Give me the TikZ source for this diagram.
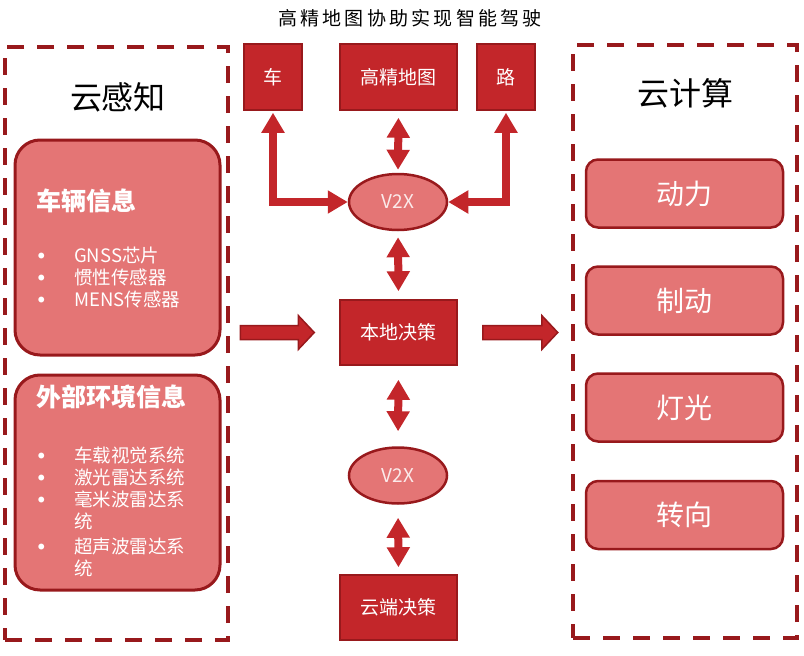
\documentclass[tikz,border=0pt]{standalone}
\usepackage{fontspec}
\setmainfont{Noto Sans CJK SC}
\usepackage{xcolor}
\usepackage{tikz}
\usetikzlibrary{positioning,arrows.meta,calc,shapes.geometric}
\definecolor{rimred}{HTML}{98191C}
\definecolor{boxred}{HTML}{C3262A}
\definecolor{softred}{HTML}{E47575}
\newcommand{\bul}{\makebox[36pt][l]{\raisebox{4pt}{\fontsize{6.5}{8}\selectfont ●}}}
\newcommand{\fatarrow}[2]{%
  \filldraw[fill=boxred,draw=rimred,line width=1.5pt,line join=miter]
    ($(#1)+(0,-7)$) -- ($(#2)+(-16,-7)$) -- ($(#2)+(-16,-17)$) -- (#2)
    -- ($(#2)+(-16,17)$) -- ($(#2)+(-16,7)$) -- ($(#1)+(0,7)$) -- cycle;}

\begin{document}
\begin{tikzpicture}[
    x=1pt, y=-1pt,
    dashbox/.style={draw=rimred,line width=4.5pt,dash pattern=on 17pt off 13pt,inner sep=0pt},
    infobox/.style={draw=rimred,fill=softred,line width=3pt,rounded corners=25pt,
        minimum width=205pt,minimum height=215pt},
    infotitle/.style={text=white,font=\fontsize{25}{28}\selectfont\bfseries,anchor=west,inner sep=0pt},
    infolist/.style={text=white,font=\fontsize{18.5}{22}\selectfont,align=left,anchor=north west,inner sep=0pt},
    darkbox/.style={draw=rimred,fill=boxred,line width=1.5pt,text=white,
        font=\fontsize{19}{22}\selectfont,minimum height=66pt},
    ovalbox/.style={ellipse,draw=rimred,fill=softred,line width=2.5pt,text=white!85!softred,
        font=\fontsize{19}{22}\selectfont,minimum width=98pt,minimum height=56pt,inner sep=0pt},
    actbox/.style={draw=rimred,fill=softred,line width=2.5pt,rounded corners=12pt,text=white,
        font=\fontsize{28}{32}\selectfont,minimum width=197pt,minimum height=68pt},
    heading/.style={font=\fontsize{32}{36}\selectfont},
    dblarrow/.style={draw=boxred,line width=8pt,
        {Triangle[width=22pt,length=20pt]}-{Triangle[width=22pt,length=20pt]}}
]
\useasboundingbox (0,0) rectangle (804,656);

\node[font=\fontsize{19}{20}\selectfont\addfontfeature{LetterSpace=17}] (titl) at (410,18) {高精地图协助实现智能驾驶};

% cloud sensing
\node[dashbox,minimum width=223pt,minimum height=593pt] (ganzhi) at (116.5,343.5) {};
\node[heading] (ganzhiT) at (118,97) {云感知};
\node[infobox] (carinfo) at (117.5,247.5) {};
\node[infotitle] (carT) at (36,201) {车辆信息};
\node[infolist] (carlist) at (38,247) {\bul GNSS芯片\\ \bul 惯性传感器\\ \bul MENS传感器};
\node[infobox] (envinfo) at (117.5,482.5) {};
\node[infotitle] (envT) at (36,397) {外部环境信息};
\node[infolist] (envlist) at (38,447) {\bul 车载视觉系统\\ \bul 激光雷达系统\\ \bul 毫米波雷达系\\ \hspace*{36pt}统\\[3pt]
    \bul 超声波雷达系\\ \hspace*{36pt}统};

% middle
\node[darkbox,minimum width=58pt] (che) at (273,77) {车};
\node[darkbox,minimum width=117pt] (hdmap) at (398.5,77) {高精地图};
\node[darkbox,minimum width=58pt] (lu) at (506,77) {路};
\node[ovalbox] (v2xa) at (398,202) {V2X};
\node[darkbox,minimum width=117pt,minimum height=65pt] (bendi) at (398.5,332.5) {本地决策};
\node[ovalbox] (v2xb) at (398,475.5) {V2X};
\node[darkbox,minimum width=117pt,minimum height=65pt] (yunduan) at (398.5,607.5) {云端决策};

\draw[dblarrow,shorten <=2pt] (che.south) |- (v2xa.west);
\draw[dblarrow,shorten <=2pt] (lu.south) |- (v2xa.east);
\draw[dblarrow,shorten <=7pt,shorten >=3pt] (hdmap.south) -- (v2xa.north);
\draw[dblarrow,shorten <=6pt,shorten >=8pt] (v2xa.south) -- (bendi.north);
\draw[dblarrow,shorten <=14pt,shorten >=15pt] (bendi.south) -- (v2xb.north);
\draw[dblarrow,shorten <=13pt,shorten >=7pt] (v2xb.south) -- (yunduan.north);

% cloud computing
\node[dashbox,minimum width=224pt,minimum height=593pt] (jisuan) at (685,341.5) {};
\node[heading] (jisuanT) at (685,93) {云计算};
\node[actbox] (dongli) at (684.5,193.5) {动力};
\node[actbox] (zhidong) at (684.5,300.5) {制动};
\node[actbox] (dengguang) at (684.5,407.5) {灯光};
\node[actbox] (zhuanxiang) at (684.5,515) {转向};

\coordinate (inL) at ($(ganzhi.east |- bendi.west)+(10,0)$);
\coordinate (inR) at ($(bendi.west)+(-25,0)$);
\coordinate (outL) at ($(bendi.east)+(25,0)$);
\coordinate (outR) at ($(jisuan.west |- bendi.east)+(-13,0)$);
\fatarrow{inL}{inR}
\fatarrow{outL}{outR}

\end{tikzpicture}
\end{document}
